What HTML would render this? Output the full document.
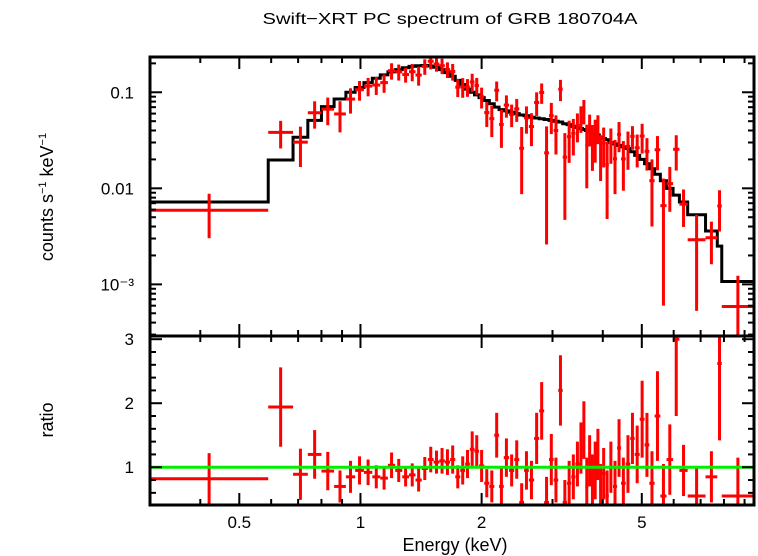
<!DOCTYPE html>
<html><head><meta charset="utf-8"><style>
body{margin:0;background:#fff;}
svg{display:block;font-family:"Liberation Sans",sans-serif;}
</style></head><body>
<svg id="chart" width="758" height="556" viewBox="0 0 758 556" xmlns="http://www.w3.org/2000/svg">
<defs>
<clipPath id="clipTop"><rect x="150" y="57" width="604" height="279"/></clipPath>
<clipPath id="clipBot"><rect x="150" y="336" width="604" height="169"/></clipPath>
</defs>
<rect width="758" height="556" fill="#fff"/>
<text x="450" y="24" font-size="16" text-anchor="middle" textLength="375" lengthAdjust="spacingAndGlyphs">Swift−XRT PC spectrum of GRB 180704A</text>
<text transform="translate(53,197) rotate(-90)" font-size="18" text-anchor="middle">counts s<tspan font-size="11" dy="-7">−1</tspan><tspan dy="7"> keV</tspan><tspan font-size="11" dy="-7">−1</tspan></text>
<text transform="translate(53,420) rotate(-90)" font-size="18" text-anchor="middle">ratio</text>
<text x="455" y="551" font-size="18" text-anchor="middle">Energy (keV)</text>
<g id="gTop"></g>
<g id="gBot"></g>
<g id="gAxes"></g>
</svg>
<script>
const edges = [0.30,0.59,0.68,0.74,0.80,0.86,0.92,0.97,1.02,1.07,1.12,1.17,1.22,1.27,1.32,1.37,1.42,1.47,1.52,1.57,1.62,1.67,1.72,1.77,1.82,1.87,1.92,1.97,2.03,2.09,2.15,2.21,2.27,2.34,2.41,2.48,2.55,2.62,2.70,2.78,2.86,2.94,3.02,3.10,3.18,3.26,3.34,3.42,3.50,3.56,3.62,3.68,3.74,3.80,3.86,3.92,3.98,4.06,4.14,4.24,4.34,4.44,4.56,4.68,4.80,4.94,5.08,5.22,5.38,5.56,5.76,5.98,6.20,6.50,7.20,7.70,7.90,9.50];
const model = [0.0072,0.0197,0.034,0.051,0.071,0.085,0.100,0.112,0.126,0.140,0.152,0.163,0.172,0.180,0.186,0.189,0.190,0.188,0.182,0.172,0.160,0.147,0.133,0.120,0.108,0.100,0.094,0.088,0.082,0.076,0.070,0.066,0.064,0.062,0.060,0.058,0.057,0.055,0.054,0.053,0.052,0.051,0.050,0.049,0.047,0.046,0.044,0.043,0.042,0.041,0.040,0.039,0.038,0.037,0.036,0.034,0.033,0.032,0.030,0.029,0.028,0.027,0.026,0.024,0.022,0.020,0.018,0.016,0.014,0.012,0.010,0.0085,0.0072,0.0053,0.0036,0.0025,0.00107];
const ratio = [0.82,1.94,0.89,1.20,0.94,0.70,0.85,0.95,0.92,0.85,0.83,1.03,0.95,0.85,0.88,0.80,0.98,1.12,1.08,1.10,1.08,1.12,0.85,0.95,1.05,1.28,1.25,1.02,0.75,0.70,1.50,0.70,1.15,0.95,1.12,0.45,0.95,0.80,1.45,1.88,0.45,1.12,0.80,2.20,0.45,0.75,0.85,1.05,1.30,1.58,0.70,1.10,0.80,0.95,1.20,0.70,0.90,0.55,1.00,0.70,1.30,0.75,1.05,1.45,1.20,1.75,1.35,0.75,1.80,0.55,1.12,3.00,0.95,0.55,0.85,2.62,0.55];
const ratioErr = [0.40,0.62,0.40,0.38,0.30,0.25,0.25,0.22,0.20,0.18,0.18,0.20,0.18,0.15,0.18,0.18,0.18,0.20,0.18,0.20,0.20,0.22,0.18,0.22,0.22,0.28,0.25,0.25,0.22,0.25,0.35,0.30,0.30,0.25,0.30,0.30,0.30,0.30,0.40,0.45,0.40,0.40,0.35,0.55,0.35,0.35,0.35,0.35,0.40,0.45,0.45,0.40,0.40,0.45,0.40,0.35,0.40,0.40,0.40,0.40,0.45,0.40,0.45,0.40,0.45,0.60,0.50,0.50,0.70,0.50,0.55,1.20,0.40,0.45,0.40,1.20,0.60];
const xTickMajor = [0.5,1,2,5];
const xTickLabels = ["0.5","1","2","5"];
const xTickMinor = [0.3,0.4,0.6,0.7,0.8,0.9,3,4,6,7,8,9];
const yTopMajor = [0.001,0.01,0.1];
const yTopLabels = ["10⁻³","0.01","0.1"];
const yBotMajor = [1,2,3];
const yBotLabels = ["1","2","3"];

const NS="http://www.w3.org/2000/svg";
const L=150,R=754,T=57,M=336,B=505;
const xMin=0.3,xMax=9.5,yTMin=2.9e-4,yTMax=0.233,yBMin=0.41,yBMax=3.05;
const X=e=>L+(Math.log10(e)-Math.log10(xMin))/(Math.log10(xMax)-Math.log10(xMin))*(R-L);
const YT=v=>M-(Math.log10(Math.max(v,1e-6))-Math.log10(yTMin))/(Math.log10(yTMax)-Math.log10(yTMin))*(M-T);
const YB=v=>B-(v-yBMin)/(yBMax-yBMin)*(B-M);
function mk(tag,attrs,parent){const e=document.createElementNS(NS,tag);for(const k in attrs)e.setAttribute(k,attrs[k]);parent.appendChild(e);return e;}
const gTop=document.getElementById('gTop'),gBot=document.getElementById('gBot'),gAx=document.getElementById('gAxes');
gTop.setAttribute('clip-path','url(#clipTop)');gBot.setAttribute('clip-path','url(#clipBot)');

let d='';
for(let i=0;i<model.length;i++){const y=YT(model[i]);d+=(i===0?'M':'L')+X(edges[i])+','+y+'L'+X(edges[i+1])+','+y;}
const ml=mk('path',{d:d,fill:'none',stroke:'#000','stroke-width':3},gTop);



for(let i=0;i<ratio.length;i++){
  const lo=edges[i],hi=edges[i+1],c=Math.sqrt(lo*hi);
  const rate=ratio[i]*model[i],er=ratioErr[i]*model[i];
  const g=mk('g',{stroke:'#f00','stroke-width':3},gTop);
  
  
  mk('line',{x1:X(lo),x2:X(hi),y1:YT(rate),y2:YT(rate)},g);
  mk('line',{x1:X(c),x2:X(c),y1:YT(rate+er),y2:(rate-er>0?YT(rate-er):M+5)},g);
  const g2=mk('g',{stroke:'#f00','stroke-width':3},gBot);
  
  
  mk('line',{x1:X(lo),x2:X(hi),y1:YB(ratio[i]),y2:YB(ratio[i])},g2);
  mk('line',{x1:X(c),x2:X(c),y1:YB(ratio[i]+ratioErr[i]),y2:YB(ratio[i]-ratioErr[i])},g2);
}
const gl=mk('line',{x1:L,x2:R,y1:YB(1),y2:YB(1),stroke:'#0e0','stroke-width':3},gBot);



for(const [y1,y2] of [[T,M],[M,B]]){
  const f=mk('rect',{x:L,y:y1,width:R-L,height:y2-y1,fill:'none',stroke:'#000','stroke-width':3},gAx);
  
  
}
function xt(e,len){for(const [ya,dir] of [[T,1],[M,-1],[M,1],[B,-1]]){mk('line',{x1:X(e),x2:X(e),y1:ya,y2:ya+dir*len,stroke:'#000','stroke-width':2},gAx);}}
xTickMajor.forEach(e=>xt(e,12));xTickMinor.forEach(e=>xt(e,6));
xTickMajor.forEach((e,i)=>{const t=mk('text',{x:X(e),y:528,'font-size':17,'text-anchor':'middle'},gAx);t.textContent=xTickLabels[i];

});
function yt(y,len){mk('line',{x1:L,x2:L+len,y1:y,y2:y,stroke:'#000','stroke-width':2},gAx);mk('line',{x1:R,x2:R-len,y1:y,y2:y,stroke:'#000','stroke-width':2},gAx);}
for(let p=-4;p<=-1;p++){for(let k=1;k<=9;k++){const v=k*Math.pow(10,p);if(v<yTMin||v>yTMax)continue;yt(YT(v),k===1?12:6);}}
yTopMajor.forEach((v,i)=>{const t=mk('text',{x:134,y:YT(v)+6,'font-size':17,'text-anchor':'end'},gAx);t.textContent=yTopLabels[i];

});
for(let v=0.6;v<3.05;v+=0.2){const r=Math.round(v*10)/10;yt(YB(r),Math.abs(r-Math.round(r))<0.01?12:6);}
yBotMajor.forEach((v,i)=>{const t=mk('text',{x:134,y:YB(v)+6,'font-size':17,'text-anchor':'end'},gAx);t.textContent=yBotLabels[i];

});
</script>
</body></html>
